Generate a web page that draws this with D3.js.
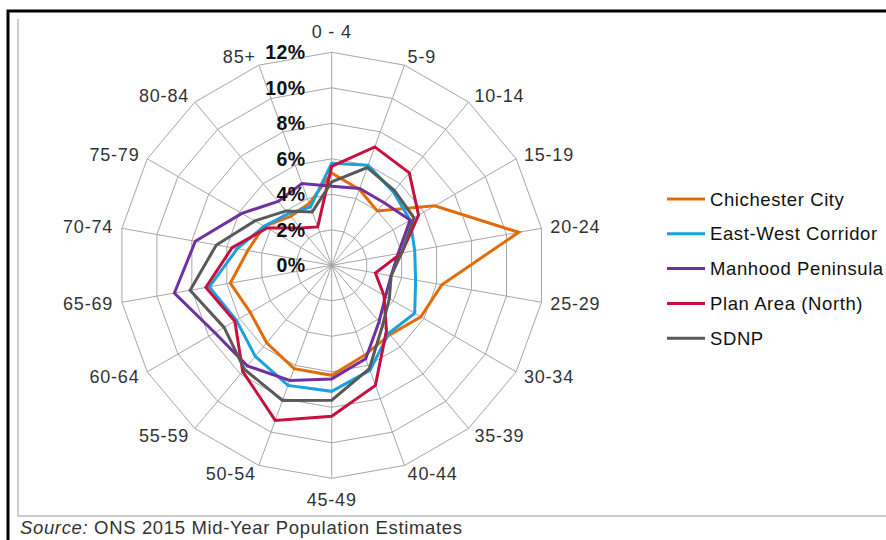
<!DOCTYPE html>
<html><head><meta charset="utf-8">
<script src="https://cdn.jsdelivr.net/npm/d3@7"></script>
<style>body{margin:0;background:#fff;}svg{display:block;font-family:Arial,"Liberation Sans",sans-serif;}</style>
</head><body>
<svg id="chart" width="886" height="540"></svg>
<script>
const categories = ["0 - 4","5-9","10-14","15-19","20-24","25-29","30-34","35-39","40-44","45-49","50-54","55-59","60-64","65-69","70-74","75-79","80-84","85+"];
const chichesterCity = [5.2,4.55,4.0,6.7,10.7,6.3,5.8,5.1,5.4,6.2,6.2,5.7,5.3,5.8,4.8,4.4,3.6,3.7];
const eastWestCorridor = [5.75,6.0,5.4,5.1,4.75,4.8,5.4,5.0,6.3,7.1,7.2,6.7,6.2,7.0,5.4,4.4,3.8,3.5];
const manhoodPeninsula = [4.45,4.6,4.6,5.1,3.8,3.4,3.5,4.15,5.6,6.4,6.9,7.4,7.6,9.0,7.8,5.85,4.7,4.9];
const planAreaNorth = [5.57,7.1,6.8,5.65,4.0,2.5,3.4,4.8,7.2,8.5,9.3,7.8,6.3,7.2,5.7,4.2,2.75,2.3];
const sdnp = [4.7,5.86,5.5,5.35,4.0,3.4,3.75,4.45,6.2,7.6,8.1,7.65,7.0,8.1,6.6,5.0,4.0,3.2];
const tickValues = [0,2,4,6,8,10,12];
const tickLabels = ["0%","2%","4%","6%","8%","10%","12%"];
const seriesNames = ["Chichester City","East-West Corridor","Manhood Peninsula","Plan Area (North)","SDNP"];
const seriesColors = ["#E36C0A","#1BA1DC","#7030A0","#C8103E","#595959"];

const series = [chichesterCity,eastWestCorridor,manhoodPeninsula,planAreaNorth,sdnp];
const svg = d3.select("#chart");
const cx = 331.7, cy = 265.3;
const r = d3.scaleLinear().domain([0,12]).range([0,213]);
const angle = c => categories.indexOf(c) * 2*Math.PI/categories.length;

const g = svg.append("g").attr("transform",`translate(${cx},${cy})`);

// frame
svg.append("path").attr("d","M8,540 V11 H886").attr("fill","none").attr("stroke","#000").attr("stroke-width",3);
svg.append("path").attr("d","M18,19 V516 H886").attr("fill","none").attr("stroke","#BDBDBD").attr("stroke-width",1.5);

// grid rings
tickValues.filter(v=>v>0).forEach(v=>{
  g.append("path").attr("d", d3.lineRadial().angle(d=>angle(d)).radius(()=>r(v)).curve(d3.curveLinearClosed)(categories))
   .attr("fill","none").attr("stroke","#A6A6A6").attr("stroke-width",1);
});
// spokes
categories.forEach(c=>{
  const a = angle(c);
  g.append("line").attr("x1",0).attr("y1",0)
    .attr("x2", r(12)*Math.sin(a)).attr("y2", -r(12)*Math.cos(a))
    .attr("stroke","#A6A6A6").attr("stroke-width",1);
});

// series
series.forEach((s,i)=>{
  const line = d3.lineRadial().angle((d,j)=>angle(categories[j])).radius(d=>r(d)).curve(d3.curveLinearClosed);
  g.append("path").attr("d", line(s)).attr("fill","none")
    .attr("stroke", seriesColors[i]).attr("stroke-width",3).attr("stroke-linejoin","miter");
});

// tick labels
tickValues.forEach((v,i)=>{
  g.append("text").attr("x",-26).attr("y",-r(v)).attr("dy","0.36em")
   .attr("text-anchor","end").attr("font-weight","bold").attr("font-size",19.5).attr("letter-spacing",0.5).attr("fill","#111")
   .text(tickLabels[i]);
});

// category labels
categories.forEach(c=>{
  const a = angle(c);
  const s = Math.sin(a), co = Math.cos(a);
  let off = Math.abs(s) < 0.1 ? 21 : 9;
  const x = (r(12)+off)*s, y = -(r(12)+off)*co;
  g.append("text").attr("x",x).attr("y",y).attr("dy","0.36em")
    .attr("text-anchor", Math.abs(s)<0.1 ? "middle" : (s>0 ? "start" : "end"))
    .attr("font-size",18).attr("letter-spacing",0.8).attr("fill","#333").text(c);
});

// legend
const lg = svg.append("g").attr("transform","translate(667,199)");
seriesNames.forEach((n,i)=>{
  const y = i*34.8;
  lg.append("line").attr("x1",0).attr("x2",38).attr("y1",y).attr("y2",y)
    .attr("stroke",seriesColors[i]).attr("stroke-width",3);
  lg.append("text").attr("x",43).attr("y",y).attr("dy","0.36em").attr("font-size",18.5).attr("letter-spacing",0.6).attr("fill","#111").text(n);
});

// source
const src = svg.append("text").attr("x",20).attr("y",527).attr("dy","0.36em").attr("font-size",18.5).attr("letter-spacing",0.65).attr("fill","#333");
src.append("tspan").attr("font-style","italic").text("Source:");
src.append("tspan").text(" ONS 2015 Mid-Year Population Estimates");
</script>
</body></html>
